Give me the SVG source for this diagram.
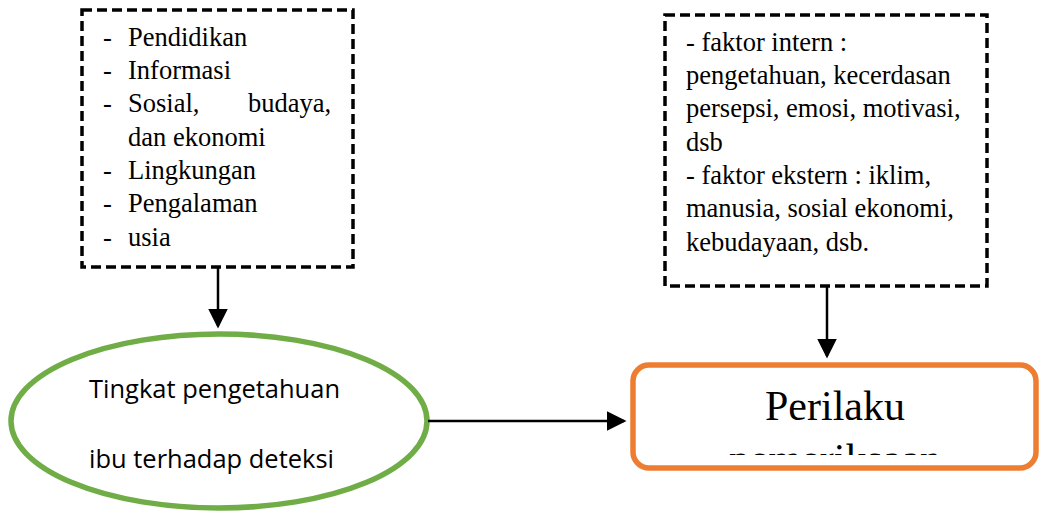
<svg xmlns="http://www.w3.org/2000/svg" width="1039" height="513" viewBox="0 0 1039 513">
<style>
.dbox{fill:#fff;stroke:#000;stroke-width:3.5;stroke-dasharray:10 5}
.conn{stroke:#000;stroke-width:2.5;fill:none}
</style>
<defs>
<marker id="ah" markerWidth="8" markerHeight="8" refX="7" refY="4" orient="auto" markerUnits="strokeWidth">
<path d="M0,0 L8,4 L0,8 z" fill="#000"/>
</marker>
<clipPath id="clip2"><rect x="640" y="380" width="390" height="75"/></clipPath>
</defs>
<rect width="1039" height="513" fill="#fff"/>
<g id="box-left">
<rect class="dbox" x="82" y="10" width="271" height="257"/>
<g font-family="Liberation Serif, serif" font-size="26.5" fill="#000">
<text x="103" y="46">-</text><text x="128" y="46">Pendidikan</text>
<text x="103" y="79">-</text><text x="128" y="79">Informasi</text>
<text x="103" y="112">-</text><text x="128" y="112">Sosial,</text><text x="248" y="112">budaya,</text>
<text x="128" y="146">dan ekonomi</text>
<text x="103" y="179">-</text><text x="128" y="179">Lingkungan</text>
<text x="103" y="212">-</text><text x="128" y="212">Pengalaman</text>
<text x="103" y="246">-</text><text x="128" y="246">usia</text>
</g>
</g>
<g id="box-right">
<rect class="dbox" x="665" y="15" width="322" height="271"/>
<g font-family="Liberation Serif, serif" font-size="26.5" fill="#000">
<text x="686" y="51">- faktor intern :</text>
<text x="686" y="84">pengetahuan, kecerdasan</text>
<text x="686" y="117">persepsi, emosi, motivasi,</text>
<text x="686" y="151">dsb</text>
<text x="686" y="184">- faktor ekstern : iklim,</text>
<text x="686" y="217">manusia, sosial ekonomi,</text>
<text x="686" y="251">kebudayaan, dsb.</text>
</g>
</g>
<g id="node-ellipse">
<ellipse cx="219" cy="421" rx="208" ry="87" fill="#fff" stroke="#70AD47" stroke-width="5.5"/>
<g font-family="Open Sans, Liberation Sans, sans-serif" font-size="25" fill="#000">
<text x="89" y="398" textLength="251" lengthAdjust="spacingAndGlyphs">Tingkat pengetahuan</text>
<text x="89" y="468" textLength="245" lengthAdjust="spacingAndGlyphs">ibu terhadap deteksi</text>
</g>
</g>
<g id="node-perilaku">
<rect x="633" y="365" width="403" height="103" rx="16" ry="16" fill="#fff" stroke="#ED7D31" stroke-width="5.5"/>
<text x="835" y="420" text-anchor="middle" font-family="Liberation Serif, serif" font-size="42">Perilaku</text>
<text x="835" y="473" text-anchor="middle" font-family="Liberation Serif, serif" font-size="42" clip-path="url(#clip2)">pemeriksaan</text>
</g>
<g id="connectors">
<line class="conn" x1="218" y1="268" x2="218" y2="326" marker-end="url(#ah)"/>
<line class="conn" x1="827" y1="287" x2="827" y2="356" marker-end="url(#ah)"/>
<line class="conn" x1="428" y1="421" x2="624" y2="421" marker-end="url(#ah)"/>
</g>
</svg>
